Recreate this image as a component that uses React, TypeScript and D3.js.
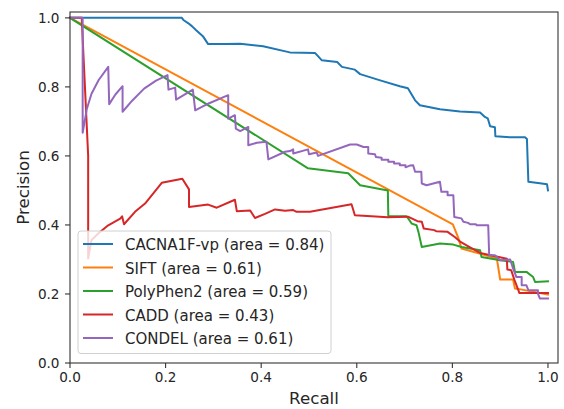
import React from 'react'
import * as d3 from 'd3'

// PR curves, [recall, precision]
const cacna1f: [number, number][] = [
  [0, 1.0], [0.234, 1.0], [0.238, 0.993], [0.247, 0.985], [0.255, 0.976], [0.264, 0.964],
  [0.278, 0.947], [0.289, 0.924], [0.324, 0.924], [0.356, 0.925], [0.404, 0.918], [0.46, 0.9],
  [0.513, 0.898], [0.527, 0.877], [0.559, 0.872], [0.569, 0.858], [0.596, 0.85], [0.607, 0.837],
  [0.649, 0.819], [0.69, 0.802], [0.707, 0.796], [0.722, 0.761], [0.732, 0.747], [0.774, 0.735],
  [0.816, 0.729], [0.858, 0.726], [0.868, 0.713], [0.874, 0.709], [0.879, 0.686], [0.889, 0.683],
  [0.89, 0.657], [0.921, 0.654], [0.952, 0.654], [0.956, 0.649], [0.959, 0.525], [0.983, 0.521],
  [0.998, 0.518], [1.0, 0.5]
]

const sift: [number, number][] = [
  [0, 1.0], [0.801, 0.402], [0.812, 0.364], [0.819, 0.332], [0.893, 0.303], [0.9, 0.242],
  [0.927, 0.242], [0.931, 0.216], [0.94, 0.214], [1.0, 0.198]
]

const polyphen2: [number, number][] = [
  [0, 1.0], [0.498, 0.564], [0.582, 0.55], [0.607, 0.515], [0.665, 0.5], [0.666, 0.425],
  [0.704, 0.425], [0.708, 0.418], [0.715, 0.404], [0.725, 0.399], [0.729, 0.38], [0.736, 0.336],
  [0.774, 0.346], [0.802, 0.343], [0.819, 0.336], [0.858, 0.327], [0.861, 0.307], [0.9, 0.298],
  [0.927, 0.293], [0.931, 0.264], [0.955, 0.264], [0.969, 0.249], [0.973, 0.235], [1.0, 0.237]
]

const cadd: [number, number][] = [
  [0, 1.0], [0.0245, 1.0], [0.038, 0.6], [0.038, 0.303], [0.045, 0.356], [0.059, 0.375],
  [0.08, 0.399], [0.105, 0.418], [0.109, 0.425], [0.113, 0.402], [0.136, 0.438], [0.157, 0.462],
  [0.192, 0.522], [0.235, 0.534], [0.249, 0.503], [0.249, 0.452], [0.289, 0.459], [0.307, 0.45],
  [0.345, 0.473], [0.349, 0.44], [0.377, 0.442], [0.387, 0.42], [0.408, 0.432], [0.429, 0.445],
  [0.45, 0.441], [0.467, 0.443], [0.474, 0.438], [0.502, 0.438], [0.589, 0.46], [0.596, 0.428],
  [0.665, 0.422], [0.707, 0.424], [0.727, 0.411], [0.736, 0.409], [0.74, 0.39], [0.762, 0.385],
  [0.766, 0.382], [0.79, 0.38], [0.805, 0.365], [0.818, 0.35], [0.837, 0.335], [0.858, 0.319],
  [0.885, 0.311], [0.914, 0.302], [0.915, 0.271], [0.923, 0.269], [0.93, 0.24], [0.937, 0.215],
  [0.94, 0.203], [1.0, 0.203]
]

const condel: [number, number][] = [
  [0, 1.0], [0.0265, 1.0], [0.0265, 0.667], [0.035, 0.735], [0.045, 0.78], [0.06, 0.82],
  [0.08, 0.858], [0.082, 0.75], [0.095, 0.778], [0.11, 0.802], [0.11, 0.728], [0.13, 0.76],
  [0.155, 0.795], [0.18, 0.818], [0.204, 0.834], [0.206, 0.792], [0.22, 0.798], [0.222, 0.763],
  [0.257, 0.792], [0.262, 0.732], [0.29, 0.752], [0.331, 0.776], [0.331, 0.708], [0.345, 0.718],
  [0.347, 0.679], [0.356, 0.672], [0.373, 0.684], [0.373, 0.631], [0.391, 0.638], [0.411, 0.641],
  [0.415, 0.59], [0.45, 0.612], [0.46, 0.614], [0.467, 0.619], [0.467, 0.607], [0.498, 0.619],
  [0.5, 0.605], [0.516, 0.61], [0.519, 0.6], [0.586, 0.633], [0.6, 0.633], [0.614, 0.626],
  [0.624, 0.626], [0.624, 0.607], [0.638, 0.605], [0.64, 0.597], [0.652, 0.595], [0.652, 0.589],
  [0.666, 0.589], [0.666, 0.583], [0.678, 0.583], [0.678, 0.578], [0.69, 0.578], [0.69, 0.573],
  [0.702, 0.573], [0.702, 0.567], [0.711, 0.572], [0.718, 0.573], [0.722, 0.554], [0.735, 0.554],
  [0.736, 0.52], [0.746, 0.515], [0.774, 0.525], [0.777, 0.496], [0.79, 0.496], [0.79, 0.486],
  [0.802, 0.486], [0.804, 0.423], [0.819, 0.419], [0.823, 0.409], [0.833, 0.406], [0.837, 0.402],
  [0.849, 0.402], [0.851, 0.399], [0.875, 0.399], [0.877, 0.312], [0.889, 0.312], [0.893, 0.307],
  [0.9, 0.298], [0.921, 0.3], [0.926, 0.278], [0.934, 0.249], [0.945, 0.249], [0.945, 0.225],
  [0.955, 0.225], [0.959, 0.211], [0.979, 0.211], [0.979, 0.201], [0.983, 0.187], [1.0, 0.187]
]

const seriesNames = ['CACNA1F-vp', 'SIFT', 'PolyPhen2', 'CADD', 'CONDEL']
const seriesAreas = ['0.84', '0.61', '0.59', '0.43', '0.61']
const seriesData = [cacna1f, sift, polyphen2, cadd, condel]
const colors = ['#1f77b4', '#ff7f0e', '#2ca02c', '#d62728', '#9467bd']
const ticks = [0, 0.2, 0.4, 0.6, 0.8, 1.0]

const W = 564
const H = 409
const left = 70
const right = 558
const top = 12
const bottom = 363
const font = 'DejaVu Sans'

export default function App() {
  const x = d3.scaleLinear().domain([0, 1.021]).range([left, right])
  const y = d3.scaleLinear().domain([0, 1.017]).range([bottom, top])
  const line = d3
    .line<[number, number]>()
    .x(d => x(d[0]))
    .y(d => y(d[1]))

  const legX = 78
  const legY = 231
  const rowH = 23.5

  return (
    <svg
      width={W}
      height={H}
      style={{ position: 'absolute', left: 0, top: 0, background: '#fff' }}
      fontFamily={font}
    >
      <rect x={0} y={0} width={W} height={H} fill="#fff" />
      {seriesData.map((d, i) => (
        <path
          key={seriesNames[i]}
          d={line(d) || ''}
          fill="none"
          stroke={colors[i]}
          strokeWidth={2}
          strokeLinejoin="round"
          strokeLinecap="square"
        />
      ))}
      <rect
        x={left}
        y={top}
        width={right - left}
        height={bottom - top}
        fill="none"
        stroke="#333"
        strokeWidth={1.1}
      />
      {ticks.map(t => (
        <g key={'x' + t}>
          <line x1={x(t)} x2={x(t)} y1={bottom} y2={bottom + 5} stroke="#333" strokeWidth={1.1} />
          <text x={x(t)} y={bottom + 19} textAnchor="middle" fontSize={13.6} fill="#262626">
            {t.toFixed(1)}
          </text>
        </g>
      ))}
      {ticks.map(t => (
        <g key={'y' + t}>
          <line x1={left - 5} x2={left} y1={y(t)} y2={y(t)} stroke="#333" strokeWidth={1.1} />
          <text x={left - 10.5} y={y(t) + 5} textAnchor="end" fontSize={13.6} fill="#262626">
            {t.toFixed(1)}
          </text>
        </g>
      ))}
      <text x={(left + right) / 2} y={404} textAnchor="middle" fontSize={16.7} fill="#262626">
        Recall
      </text>
      <text
        transform={`translate(29, ${(top + bottom) / 2}) rotate(-90)`}
        textAnchor="middle"
        fontSize={16.7}
        fill="#262626"
      >
        Precision
      </text>
      <rect
        x={legX}
        y={legY}
        width={253}
        height={122.5}
        rx={3}
        fill="#fff"
        fillOpacity={0.8}
        stroke="#d0d0d0"
        strokeWidth={1}
      />
      {seriesNames.map((n, i) => (
        <g key={'leg' + n}>
          <line
            x1={legX + 5}
            x2={legX + 35}
            y1={legY + 13 + i * rowH}
            y2={legY + 13 + i * rowH}
            stroke={colors[i]}
            strokeWidth={2}
          />
          <text x={legX + 47} y={legY + 19 + i * rowH} fontSize={15} fill="#262626">
            {`${n} (area = ${seriesAreas[i]})`}
          </text>
        </g>
      ))}
    </svg>
  )
}
